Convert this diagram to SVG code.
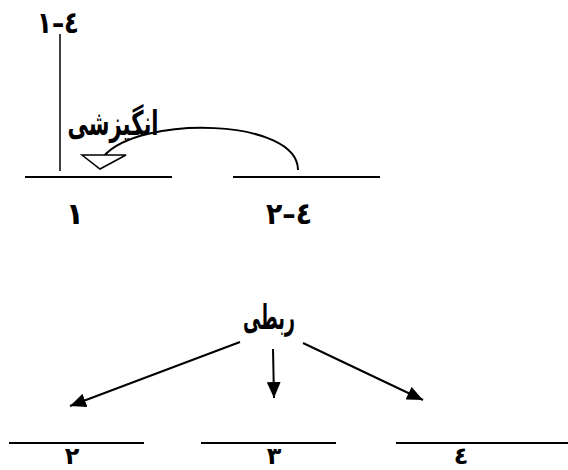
<svg xmlns="http://www.w3.org/2000/svg" width="568" height="470" viewBox="0 0 568 470">
<style>
.ln{stroke:#000;stroke-width:2;fill:none}
.ar{font-family:"DejaVu Sans","Noto Sans",sans-serif;font-weight:bold;fill:#000;text-anchor:middle}
.num{font-family:"DejaVu Sans","Noto Sans",sans-serif;font-weight:bold;fill:#000;text-anchor:middle;direction:ltr;unicode-bidi:bidi-override;font-size:30px}
.bot{font-size:24px}
</style>
<defs>
<marker id="ah" markerUnits="userSpaceOnUse" markerWidth="18" markerHeight="14" refX="16" refY="7" orient="auto">
<path d="M0,0 L16,7 L0,14 Z" fill="#000"/>
</marker>
</defs>
<rect width="568" height="470" fill="#fff"/>
<g id="node-1-4">
<text class="num" x="58" y="33" textLength="42" lengthAdjust="spacingAndGlyphs">١–٤</text>
<line class="ln" x1="60" y1="34" x2="60" y2="171" style="stroke-width:1.5"/>
</g>
<g id="node-1">
<line class="ln" x1="25" y1="177" x2="172" y2="177"/>
<text class="num" x="75" y="224">١</text>
</g>
<g id="node-2-4">
<line class="ln" x1="233" y1="177" x2="380" y2="177"/>
<text class="num" x="289" y="224" textLength="46" lengthAdjust="spacingAndGlyphs">٢–٤</text>
</g>
<g id="label-engizeshi">
<text class="ar" x="113" y="135" font-size="34" textLength="91" lengthAdjust="spacingAndGlyphs">انگیزشی</text>
</g>
<g id="label-rabti">
<text class="ar" x="269" y="329" font-size="34" textLength="52" lengthAdjust="spacingAndGlyphs">ربطی</text>
</g>
<g id="node-2">
<line class="ln" x1="9" y1="443" x2="144" y2="443"/>
<text class="num bot" x="72" y="464">٢</text>
</g>
<g id="node-3">
<line class="ln" x1="201" y1="443" x2="336" y2="443"/>
<text class="num bot" x="274" y="464">٣</text>
</g>
<g id="node-4">
<line class="ln" x1="396" y1="443" x2="568" y2="443"/>
<text class="num bot" x="461" y="464">٤</text>
</g>
<g id="connectors">
<path class="ln" d="M298,170 C298,118 140,115 104,156"/>
<polygon points="82,155 126,155 100,169" fill="#fff" stroke="#000" stroke-width="1.5"/>
<line class="ln" x1="240" y1="342" x2="70" y2="406" marker-end="url(#ah)"/>
<line class="ln" x1="273" y1="349" x2="274" y2="398" marker-end="url(#ah)"/>
<line class="ln" x1="303" y1="343" x2="423" y2="400" marker-end="url(#ah)"/>
</g>
</svg>
